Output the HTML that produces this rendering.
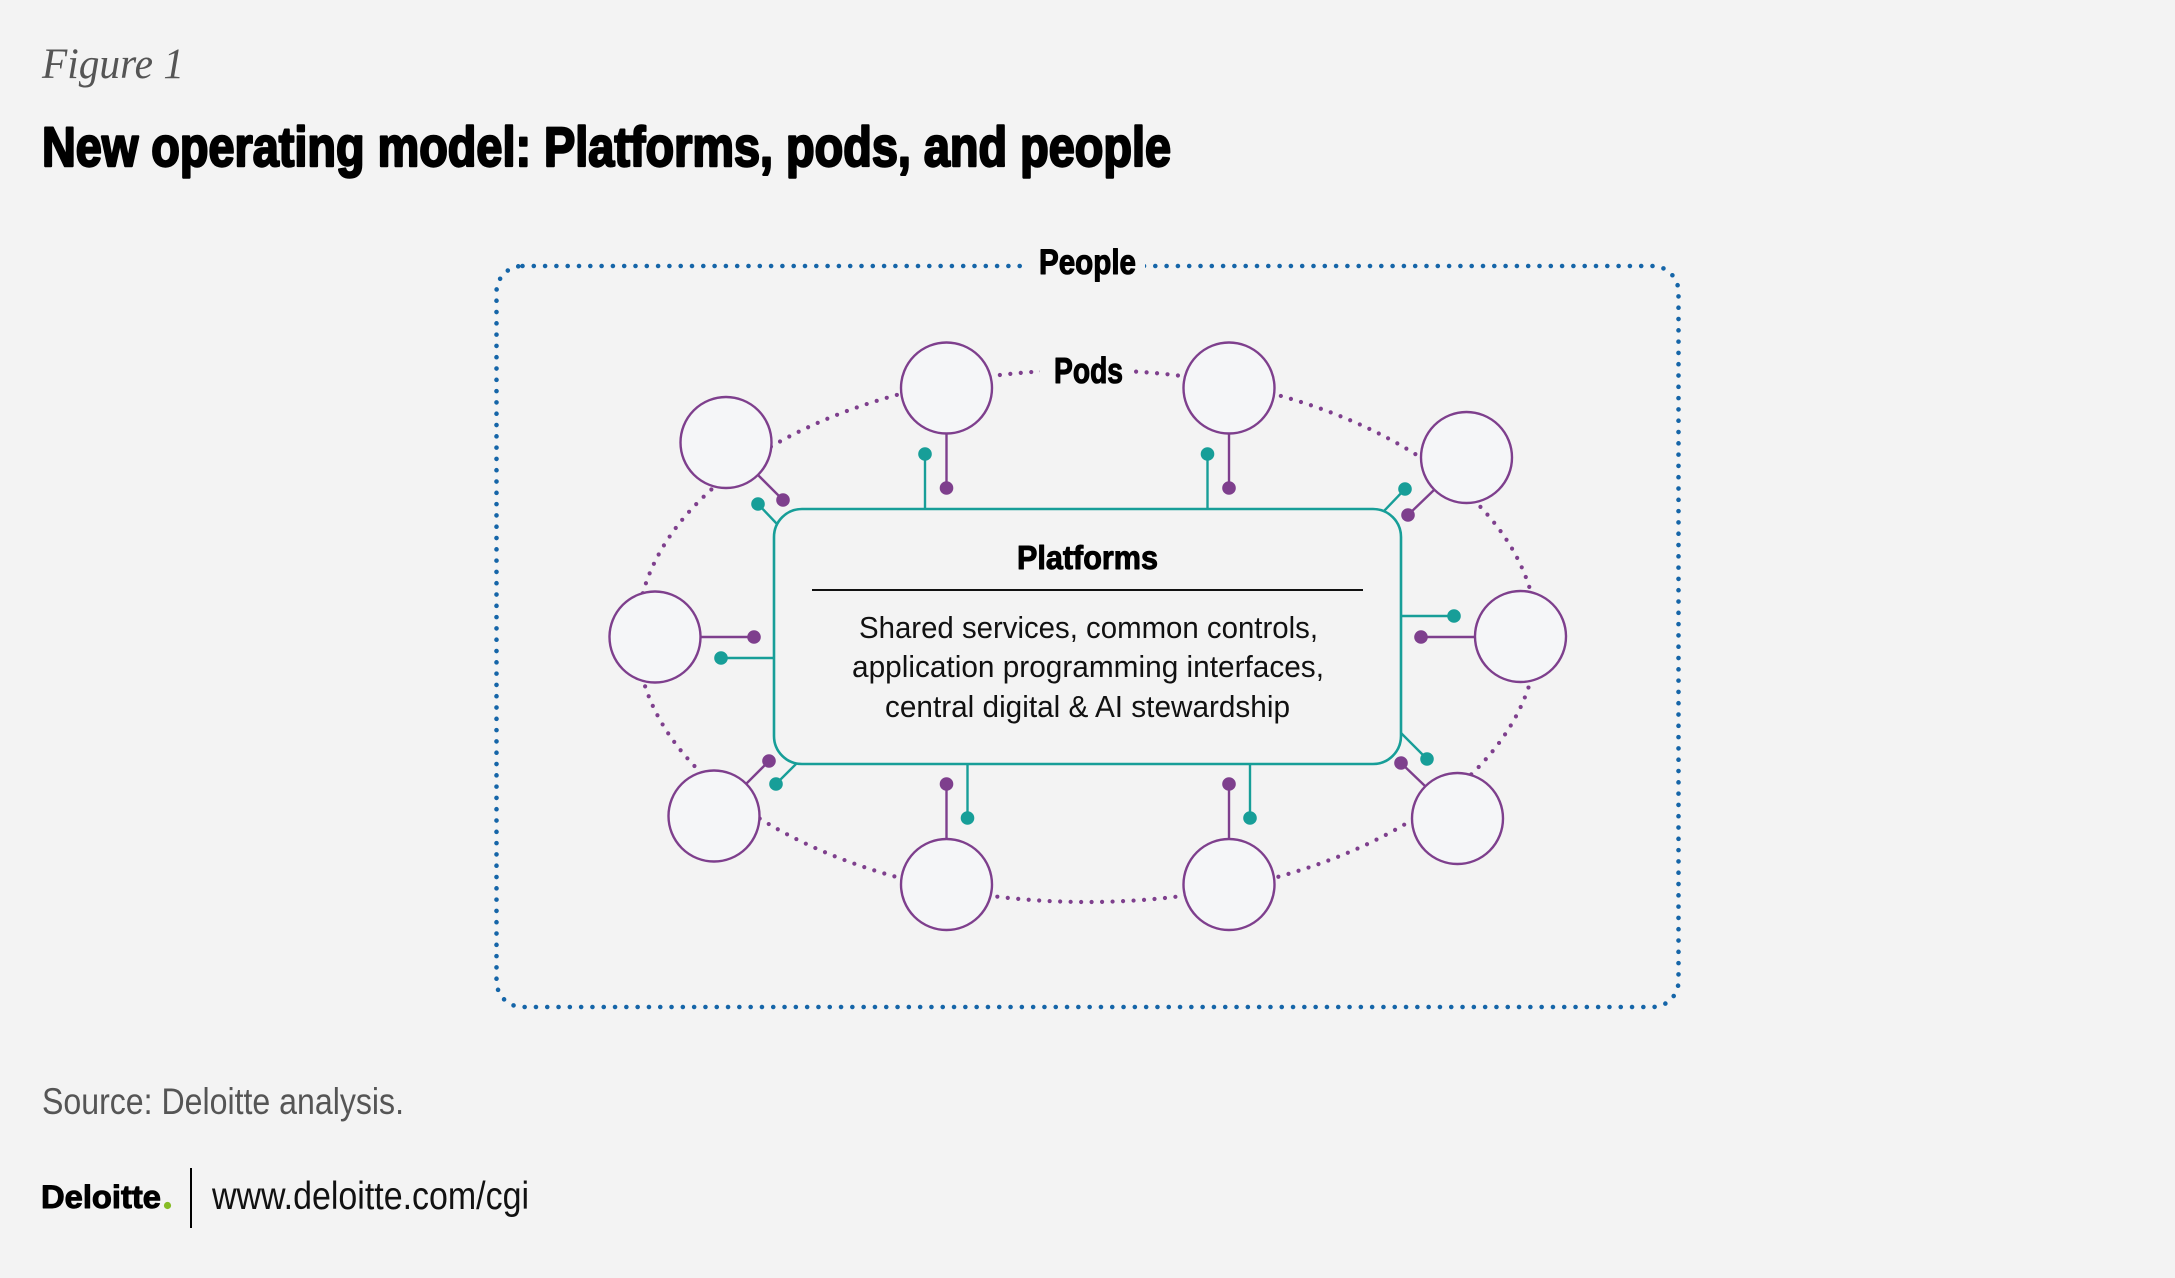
<!DOCTYPE html>
<html>
<head>
<meta charset="utf-8">
<style>
  html,body{margin:0;padding:0;background:#f3f3f3;}
  body{width:2175px;height:1278px;overflow:hidden;}
  svg{display:block;}
  .sans{font-family:"Liberation Sans","DejaVu Sans",sans-serif;}
  .serif{font-family:"Liberation Serif","DejaVu Serif",serif;}
</style>
</head>
<body>
<svg width="2175" height="1278" viewBox="0 0 2175 1278" xmlns="http://www.w3.org/2000/svg">
  <rect x="0" y="0" width="2175" height="1278" fill="#f3f3f3"/>

  <!-- Header -->
  <text class="serif" x="42" y="78" font-size="43" font-style="italic" fill="#555555" textLength="142" lengthAdjust="spacingAndGlyphs">Figure 1</text>
  <text class="sans" x="42" y="166" font-size="56" font-weight="bold" fill="#000" stroke="#000" stroke-width="2.4" stroke-linejoin="round" textLength="1129" lengthAdjust="spacingAndGlyphs">New operating model: Platforms, pods, and people</text>

  <!-- People dotted boundary -->
  <rect x="496.5" y="266" width="1182" height="741" rx="26" ry="26" fill="none" stroke="#1565a8" stroke-width="4.6" stroke-linecap="round" stroke-dasharray="0 11.3"/>
  <rect x="1026" y="246" width="119" height="42" fill="#f3f3f3"/>
  <text class="sans" x="1087.5" y="274" font-size="35" font-weight="bold" fill="#000" stroke="#000" stroke-width="1.1" stroke-linejoin="round" text-anchor="middle" textLength="97" lengthAdjust="spacingAndGlyphs">People</text>

  <!-- Pods dotted ellipse -->
  <ellipse cx="1087" cy="636" rx="450" ry="266" fill="none" stroke="#7e3f8d" stroke-width="4.2" stroke-linecap="round" stroke-dasharray="0 10.5"/>
  <rect x="1040" y="352" width="92" height="40" fill="#f3f3f3"/>
  <text class="sans" x="1088.5" y="383" font-size="36" font-weight="bold" fill="#000" stroke="#000" stroke-width="1.1" stroke-linejoin="round" text-anchor="middle" textLength="69" lengthAdjust="spacingAndGlyphs">Pods</text>

  <!-- Teal connectors -->
  <g stroke="#179e98" stroke-width="2.4" fill="none">
    <line x1="758" y1="504" x2="777" y2="524"/>
    <line x1="925" y1="509" x2="925" y2="454"/>
    <line x1="1207.5" y1="509" x2="1207.5" y2="454"/>
    <line x1="1405" y1="489" x2="1384" y2="511"/>
    <line x1="774" y1="658" x2="721" y2="658"/>
    <line x1="1401" y1="616" x2="1454" y2="616"/>
    <line x1="797" y1="763" x2="776" y2="784"/>
    <line x1="967.5" y1="764" x2="967.5" y2="818"/>
    <line x1="1250" y1="764" x2="1250" y2="818"/>
    <line x1="1401" y1="733" x2="1427" y2="759"/>
  </g>
  <g fill="#179e98">
    <circle cx="758" cy="504" r="6.8"/>
    <circle cx="925" cy="454" r="6.8"/>
    <circle cx="1207.5" cy="454" r="6.8"/>
    <circle cx="1405" cy="489" r="6.8"/>
    <circle cx="721" cy="658" r="6.8"/>
    <circle cx="1454" cy="616" r="6.8"/>
    <circle cx="776" cy="784" r="6.8"/>
    <circle cx="967.5" cy="818" r="6.8"/>
    <circle cx="1250" cy="818" r="6.8"/>
    <circle cx="1427" cy="759" r="6.8"/>
  </g>

  <!-- Purple connectors -->
  <g stroke="#7e3f8d" stroke-width="2.4" fill="none">
    <line x1="758" y1="475" x2="783" y2="500"/>
    <line x1="946.5" y1="433" x2="946.5" y2="488"/>
    <line x1="1229" y1="433" x2="1229" y2="488"/>
    <line x1="1434" y1="490" x2="1408" y2="515"/>
    <line x1="700" y1="637" x2="754" y2="637"/>
    <line x1="1475" y1="637" x2="1421" y2="637"/>
    <line x1="746.5" y1="783.5" x2="769" y2="761"/>
    <line x1="946.5" y1="839" x2="946.5" y2="784"/>
    <line x1="1229" y1="839" x2="1229" y2="784"/>
    <line x1="1425" y1="786" x2="1401" y2="763"/>
  </g>
  <g fill="#7e3f8d">
    <circle cx="783" cy="500" r="6.8"/>
    <circle cx="946.5" cy="488" r="6.8"/>
    <circle cx="1229" cy="488" r="6.8"/>
    <circle cx="1408" cy="515" r="6.8"/>
    <circle cx="754" cy="637" r="6.8"/>
    <circle cx="1421" cy="637" r="6.8"/>
    <circle cx="769" cy="761" r="6.8"/>
    <circle cx="946.5" cy="784" r="6.8"/>
    <circle cx="1229" cy="784" r="6.8"/>
    <circle cx="1401" cy="763" r="6.8"/>
  </g>

  <!-- Pod circles -->
  <g fill="#f5f6f8" stroke="#7e3f8d" stroke-width="2.4">
    <circle cx="726" cy="442.5" r="45.5"/>
    <circle cx="946.5" cy="388" r="45.5"/>
    <circle cx="1229" cy="388" r="45.5"/>
    <circle cx="1466.5" cy="457.5" r="45.5"/>
    <circle cx="655" cy="637" r="45.5"/>
    <circle cx="1520.5" cy="636.5" r="45.5"/>
    <circle cx="714" cy="816" r="45.5"/>
    <circle cx="946.5" cy="884.5" r="45.5"/>
    <circle cx="1229" cy="884.5" r="45.5"/>
    <circle cx="1457.5" cy="818.5" r="45.5"/>
  </g>

  <!-- Platforms box -->
  <rect x="774" y="509" width="627" height="255" rx="28" ry="28" fill="#f3f3f3" stroke="#179e98" stroke-width="2.6"/>
  <text class="sans" x="1087.5" y="569" font-size="33" font-weight="bold" fill="#000" stroke="#000" stroke-width="1.0" stroke-linejoin="round" text-anchor="middle" textLength="141" lengthAdjust="spacingAndGlyphs">Platforms</text>
  <line x1="812" y1="590" x2="1363" y2="590" stroke="#111" stroke-width="2"/>
  <g class="sans" font-size="31" fill="#111" text-anchor="middle">
    <text x="1088.5" y="638" textLength="459" lengthAdjust="spacingAndGlyphs">Shared services, common controls,</text>
    <text x="1088" y="677" textLength="472" lengthAdjust="spacingAndGlyphs">application programming interfaces,</text>
    <text x="1087.5" y="717" textLength="405" lengthAdjust="spacingAndGlyphs">central digital &amp; AI stewardship</text>
  </g>

  <!-- Footer -->
  <text class="sans" x="42" y="1114" font-size="37" fill="#555555" textLength="362" lengthAdjust="spacingAndGlyphs">Source: Deloitte analysis.</text>
  <text class="sans" x="41" y="1208" font-size="32" font-weight="bold" fill="#000" stroke="#000" stroke-width="1.0" stroke-linejoin="round" textLength="120" lengthAdjust="spacingAndGlyphs">Deloitte</text>
  <circle cx="167.5" cy="1205.5" r="3.6" fill="#86bc25"/>
  <line x1="191" y1="1168" x2="191" y2="1228" stroke="#000" stroke-width="2"/>
  <text class="sans" x="212" y="1209" font-size="39" fill="#111" textLength="317" lengthAdjust="spacingAndGlyphs">www.deloitte.com/cgi</text>
</svg>
</body>
</html>
